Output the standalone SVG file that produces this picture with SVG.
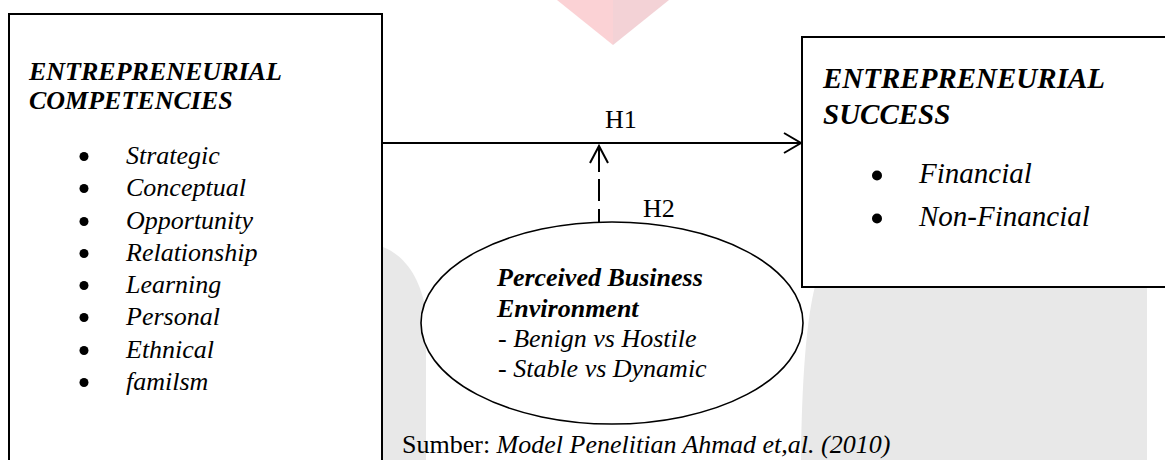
<svg xmlns="http://www.w3.org/2000/svg" width="1165" height="460" viewBox="0 0 1165 460">
<defs>
<style>
.t{font-family:"Liberation Serif","Times New Roman",serif;fill:#000}
.bi{font-weight:bold;font-style:italic}
.i{font-style:italic}
.box{fill:#fff;stroke:#000;stroke-width:2}
.ln{fill:none;stroke:#000;stroke-width:2}
.wm{fill:#e8e8e8}
</style>
</defs>
<rect width="1165" height="460" fill="#fff"/>
<g id="watermark">
<polygon points="557,0 613,45 613,0" fill="#fbd2d5"/>
<polygon points="613,0 613,45 669,0" fill="#f3d2d6"/>
<path class="wm" d="M383,460 V247 C403,255 420,275 426,312 V460 Z"/>
<path class="wm" d="M801,460 C802,380 806,320 816,282 V200 H1147 V460 Z"/>
</g>
<g id="competencies">
<rect class="box" x="9" y="14" width="373" height="460"/>
<text class="t bi" font-size="26" x="29" y="80">ENTREPRENEURIAL</text>
<text class="t bi" font-size="26" x="29" y="109">COMPETENCIES</text>
<g font-size="26" class="t i">
<circle cx="84" cy="156.5" r="4.5"/><text class="t i" x="126" y="164">Strategic</text>
<circle cx="84" cy="188.5" r="4.5"/><text class="t i" x="126" y="196">Conceptual</text>
<circle cx="84" cy="221.5" r="4.5"/><text class="t i" x="126" y="229">Opportunity</text>
<circle cx="84" cy="253.5" r="4.5"/><text class="t i" x="126" y="261">Relationship</text>
<circle cx="84" cy="285.5" r="4.5"/><text class="t i" x="126" y="293">Learning</text>
<circle cx="84" cy="317.5" r="4.5"/><text class="t i" x="126" y="325">Personal</text>
<circle cx="84" cy="350.5" r="4.5"/><text class="t i" x="126" y="358">Ethnical</text>
<circle cx="84" cy="382.5" r="4.5"/><text class="t i" x="126" y="390">familsm</text>
</g>
</g>
<g id="success">
<rect class="box" x="802" y="37" width="380" height="250"/>
<text class="t bi" font-size="29" x="823" y="88">ENTREPRENEURIAL</text>
<text class="t bi" font-size="29" x="823" y="124">SUCCESS</text>
<g font-size="29" class="t i">
<circle cx="877" cy="175.5" r="5"/><text class="t i" x="919" y="183">Financial</text>
<circle cx="877" cy="218.5" r="5"/><text class="t i" x="919" y="226">Non-Financial</text>
</g>
</g>
<g id="environment">
<ellipse cx="612" cy="323" rx="191" ry="101" fill="#fff" stroke="#000" stroke-width="1.6"/>
<text class="t bi" font-size="26" x="497" y="286">Perceived Business</text>
<text class="t bi" font-size="26" x="497" y="317">Environment</text>
<text class="t i" font-size="26" x="498" y="347">- Benign vs Hostile</text>
<text class="t i" font-size="26" x="498" y="377">- Stable vs Dynamic</text>
</g>
<g id="connectors">
<line class="ln" x1="382" y1="143" x2="801" y2="143"/>
<polyline class="ln" points="784,133 801,143 784,153"/>
<line class="ln" x1="599" y1="146" x2="599" y2="222" stroke-dasharray="26 7 22 8 22"/>
<polyline class="ln" points="590,163 599,146 608,163"/>
<text class="t" font-size="26" x="605" y="128">H1</text>
<text class="t" font-size="26" x="643" y="217">H2</text>
</g>
<g id="caption">
<text class="t" font-size="26" x="402" y="453">Sumber: <tspan class="i">Model Penelitian Ahmad et,al. (2010)</tspan></text>
</g>
</svg>
